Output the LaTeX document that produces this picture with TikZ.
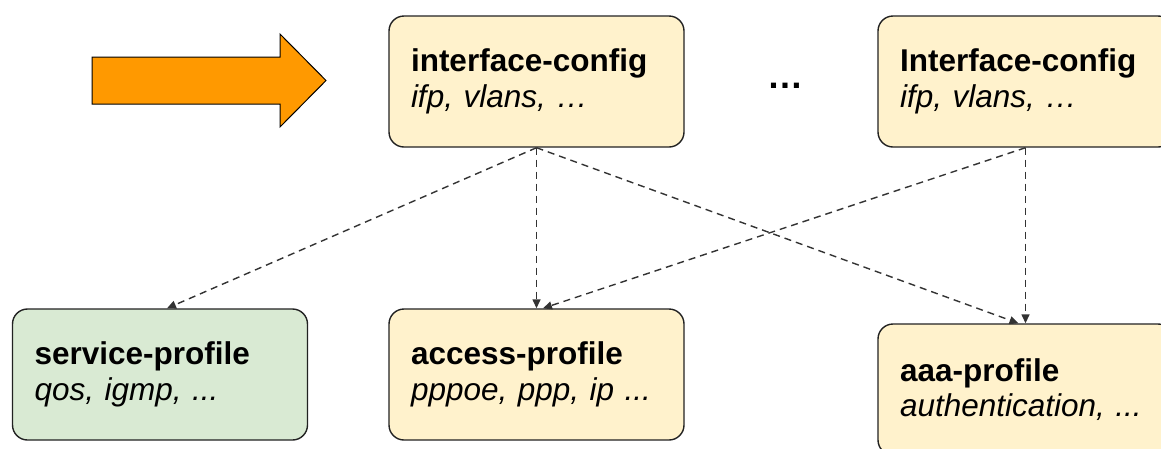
\documentclass[tikz,border=0pt]{standalone}
\usepackage{fontspec}
\setmainfont{Liberation Sans}
\usetikzlibrary{arrows.meta,calc}
\definecolor{cfgfill}{HTML}{FFF2CC}
\definecolor{svcfill}{HTML}{D9EAD3}
\definecolor{arrfill}{HTML}{FF9900}
\definecolor{edgec}{HTML}{222222}
\begin{document}
\begin{tikzpicture}[x=1pt,y=-1pt,
  box/.style={draw=edgec, line width=1.4pt, rounded corners=15pt,
    text width=251pt, inner xsep=22pt, inner ysep=0pt, minimum height=131pt,
    align=left, font=\fontsize{31.5}{35.5}\selectfont},
  cfg/.style={box, fill=cfgfill},
  svc/.style={box, fill=svcfill},
  conn/.style={draw=black!80, line width=1.4pt, dash pattern=on 7pt off 5pt,
    -{Triangle[length=9pt,width=8pt]}},
  bigarrow/.style={fill=arrfill, draw=black, line width=1pt, line join=miter},
]
\useasboundingbox (0,0) rectangle (1161,448);
\clip (0,0) rectangle (1161,448);

\draw[bigarrow] (92,57) -- (280,57) -- (280,34) -- (326,80.5) -- (280,127)
  -- (280,104) -- (92,104) -- cycle;

\node[cfg] (ic1) at (536.5,81.5) {\textbf{interface-config}\\\textit{ifp, vlans, …}};
\node[cfg] (ic2) at (1025.5,81.5) {\textbf{Interface-config}\\\textit{ifp, vlans, …}};
\node[font=\fontsize{36}{40}\selectfont\bfseries] (more) at (785,86) {…};

\node[svc] (sp) at (160,374.5) {\textbf{service-profile}\\\textit{qos, igmp, ...}};
\node[cfg] (ap) at (536.5,374.5) {\textbf{access-profile}\\\textit{pppoe, ppp, ip ...}};
\node[cfg] (aaa) at (1025.5,389.5) {\textbf{aaa-profile}\\\textit{authentication, ...}};

\draw[conn] (ic1.south) -- ([xshift=7pt]sp.north);
\draw[conn] (ic1.south) -- (ap.north);
\draw[conn] (ic1.south) -- ([xshift=-7pt]aaa.north);
\draw[conn] (ic2.south) -- ([xshift=6.5pt]ap.north);
\draw[conn] (ic2.south) -- (aaa.north);
\end{tikzpicture}
\end{document}
